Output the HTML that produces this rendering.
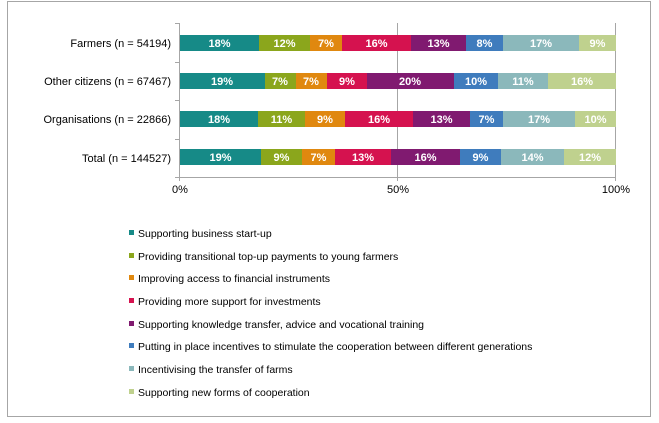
<!DOCTYPE html>
<html><head><meta charset="utf-8"><style>
body{margin:0;background:#fff;}
svg{display:block;font-family:"Liberation Sans",Arial,sans-serif;}
</style></head><body>
<svg width="659" height="423" viewBox="0 0 659 423" xmlns="http://www.w3.org/2000/svg">
<rect x="7.5" y="1.5" width="643" height="415" fill="#fff" stroke="#a6a6a6" stroke-width="1"/>
<line x1="397.5" y1="23" x2="397.5" y2="177" stroke="#a6a6a6"/>
<line x1="615.5" y1="23" x2="615.5" y2="177" stroke="#a6a6a6"/>
<line x1="179.5" y1="23" x2="179.5" y2="177" stroke="#a6a6a6"/>
<line x1="179" y1="177.5" x2="616" y2="177.5" stroke="#a6a6a6"/>
<g stroke="#a6a6a6">
<line x1="175" y1="23.5" x2="180" y2="23.5"/><line x1="175" y1="62.5" x2="180" y2="62.5"/>
<line x1="175" y1="100.5" x2="180" y2="100.5"/><line x1="175" y1="139.5" x2="180" y2="139.5"/>
<line x1="175" y1="177.5" x2="180" y2="177.5"/>
<line x1="179.5" y1="177" x2="179.5" y2="181"/><line x1="397.5" y1="177" x2="397.5" y2="181"/><line x1="615.5" y1="177" x2="615.5" y2="181"/>
</g>
<g font-size="11" fill="#000" text-anchor="end">
<text x="171" y="47">Farmers (n = 54194)</text>
<text x="171" y="85">Other citizens (n = 67467)</text>
<text x="171" y="123">Organisations (n = 22866)</text>
<text x="171" y="162">Total (n = 144527)</text>
</g>
<g font-size="11" fill="#000" text-anchor="middle">
<text x="180" y="193">0%</text><text x="398" y="193">50%</text><text x="616" y="193">100%</text>
</g>
<g font-size="11" font-weight="bold" fill="#fff" text-anchor="middle">
<rect x="180" y="35" width="79" height="16" fill="#168a87"/>
<rect x="259" y="35" width="51" height="16" fill="#8ba61c"/>
<rect x="310" y="35" width="32" height="16" fill="#e0880f"/>
<rect x="342" y="35" width="69" height="16" fill="#d5124f"/>
<rect x="411" y="35" width="55" height="16" fill="#801a70"/>
<rect x="466" y="35" width="37" height="16" fill="#3f7cbd"/>
<rect x="503" y="35" width="76" height="16" fill="#8bb8bb"/>
<rect x="579" y="35" width="37" height="16" fill="#bfd18e"/>
<text x="219.5" y="47">18%</text><text x="284.5" y="47">12%</text><text x="326" y="47">7%</text><text x="376.5" y="47">16%</text><text x="438.5" y="47">13%</text><text x="484.5" y="47">8%</text><text x="541" y="47">17%</text><text x="597.5" y="47">9%</text>
<rect x="180" y="73" width="85" height="16" fill="#168a87"/>
<rect x="265" y="73" width="31" height="16" fill="#8ba61c"/>
<rect x="296" y="73" width="31" height="16" fill="#e0880f"/>
<rect x="327" y="73" width="40" height="16" fill="#d5124f"/>
<rect x="367" y="73" width="87" height="16" fill="#801a70"/>
<rect x="454" y="73" width="44" height="16" fill="#3f7cbd"/>
<rect x="498" y="73" width="50" height="16" fill="#8bb8bb"/>
<rect x="548" y="73" width="68" height="16" fill="#bfd18e"/>
<text x="222" y="85">19%</text><text x="280" y="85">7%</text><text x="311" y="85">7%</text><text x="347" y="85">9%</text><text x="410" y="85">20%</text><text x="476" y="85">10%</text><text x="523" y="85">11%</text><text x="582" y="85">16%</text>
<rect x="180" y="111" width="78" height="16" fill="#168a87"/>
<rect x="258" y="111" width="47" height="16" fill="#8ba61c"/>
<rect x="305" y="111" width="40" height="16" fill="#e0880f"/>
<rect x="345" y="111" width="68" height="16" fill="#d5124f"/>
<rect x="413" y="111" width="57" height="16" fill="#801a70"/>
<rect x="470" y="111" width="33" height="16" fill="#3f7cbd"/>
<rect x="503" y="111" width="72" height="16" fill="#8bb8bb"/>
<rect x="575" y="111" width="41" height="16" fill="#bfd18e"/>
<text x="219" y="123">18%</text><text x="281.5" y="123">11%</text><text x="325" y="123">9%</text><text x="379" y="123">16%</text><text x="441.5" y="123">13%</text><text x="486.5" y="123">7%</text><text x="539" y="123">17%</text><text x="595.5" y="123">10%</text>
<rect x="180" y="149" width="81" height="16" fill="#168a87"/>
<rect x="261" y="149" width="41" height="16" fill="#8ba61c"/>
<rect x="302" y="149" width="33" height="16" fill="#e0880f"/>
<rect x="335" y="149" width="56" height="16" fill="#d5124f"/>
<rect x="391" y="149" width="69" height="16" fill="#801a70"/>
<rect x="460" y="149" width="41" height="16" fill="#3f7cbd"/>
<rect x="501" y="149" width="63" height="16" fill="#8bb8bb"/>
<rect x="564" y="149" width="52" height="16" fill="#bfd18e"/>
<text x="220.5" y="161">19%</text><text x="281.5" y="161">9%</text><text x="318.5" y="161">7%</text><text x="363" y="161">13%</text><text x="425.5" y="161">16%</text><text x="480.5" y="161">9%</text><text x="532.5" y="161">14%</text><text x="590" y="161">12%</text>
</g>
<g font-size="10.5" fill="#000">
<rect x="129" y="230" width="5" height="5" fill="#168a87"/><text x="138" y="237">Supporting business start-up</text>
<rect x="129" y="253" width="5" height="5" fill="#8ba61c"/><text x="138" y="260">Providing transitional top-up payments to young farmers</text>
<rect x="129" y="275" width="5" height="5" fill="#e0880f"/><text x="138" y="282">Improving access to financial instruments</text>
<rect x="129" y="298" width="5" height="5" fill="#d5124f"/><text x="138" y="305">Providing more support for investments</text>
<rect x="129" y="321" width="5" height="5" fill="#801a70"/><text x="138" y="328">Supporting knowledge transfer, advice and vocational training</text>
<rect x="129" y="343" width="5" height="5" fill="#3f7cbd"/><text x="138" y="350">Putting in place incentives to stimulate the cooperation between different  generations</text>
<rect x="129" y="366" width="5" height="5" fill="#8bb8bb"/><text x="138" y="373">Incentivising the transfer of farms</text>
<rect x="129" y="389" width="5" height="5" fill="#bfd18e"/><text x="138" y="396">Supporting new forms of cooperation</text>
</g>
</svg>
</body></html>
